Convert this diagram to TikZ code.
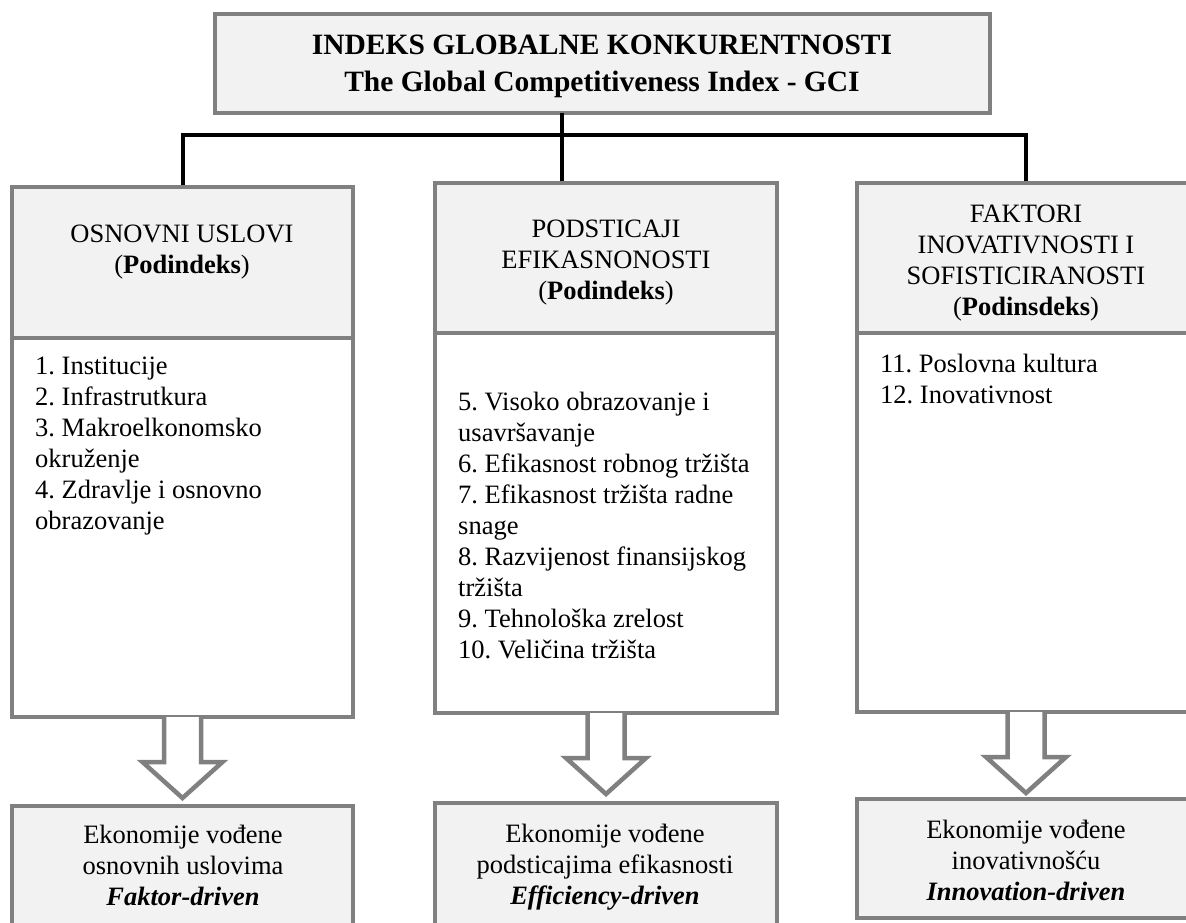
\documentclass[tikz,border=0pt]{standalone}
\usepackage{fontspec}
\setmainfont{Liberation Serif}
\usetikzlibrary{calc}
\definecolor{framegray}{HTML}{808080}
\definecolor{headfill}{HTML}{F2F2F2}
\frenchspacing

% hollow block arrow hanging below a box
\newcommand\hollowdown[1]{%
  \draw[blockarrow] ($(#1.south)+(-18.5,0)$) -- ++(0,45) -- ++(-21.5,0)
    -- ($(#1.south)+(0,81)$) -- ($(#1.south)+(40,45)$) -- ++(-21.5,0)
    -- ($(#1.south)+(18.5,0)$);}

\begin{document}
\begin{tikzpicture}[x=1pt,y=-1pt,
  panel/.style={draw=framegray, line width=4.5pt, inner sep=0pt, outer sep=0pt,
    anchor=north west},
  headpanel/.style={panel, fill=headfill},
  bodypanel/.style={panel, fill=white},
  link/.style={draw=black, line width=4pt, line join=miter},
  blockarrow/.style={draw=framegray, line width=4.5pt, fill=white, line join=miter},
  titletext/.style={font=\fontsize{29.5}{37}\selectfont\bfseries, align=center,
    inner sep=0pt, anchor=north},
  headtext/.style={font=\fontsize{26.5}{31}\selectfont, align=center,
    inner sep=0pt, anchor=north},
  listtext/.style={font=\fontsize{26.5}{31}\selectfont, align=left,
    inner sep=0pt, anchor=north west},
]
\useasboundingbox (0,0) rectangle (1186,922);
\clip (0,0) rectangle (1186,922);

% box outlines (no text yet)
\path
  node[headpanel, minimum width=775, minimum height=99]  (top) at (215,14)  {}
  node[headpanel, minimum width=341, minimum height=151] (lh)  at (12,187)  {}
  node[headpanel, minimum width=342, minimum height=150] (mh)  at (435,183) {}
  node[headpanel, minimum width=338, minimum height=150] (rh)  at (857,183) {};

\coordinate (hub) at (562,135);

% tree connectors
\draw[link] (lh.north) -- (lh.north |- hub) -- (rh.north |- hub) -- (rh.north);
\draw[link] (top.south -| hub) -- (mh.north -| hub);

% bodies of the three pillars
\node[bodypanel, minimum width=341, minimum height=379] (lb) at (12,338)  {};
\node[bodypanel, minimum width=342, minimum height=380] (mb) at (435,333) {};
\node[bodypanel, minimum width=338, minimum height=379] (rb) at (857,333) {};

% redraw headers over the bodies' top edges
\node[headpanel, minimum width=341, minimum height=151] at (12,187)  {};
\node[headpanel, minimum width=342, minimum height=150] at (435,183) {};
\node[headpanel, minimum width=338, minimum height=150] at (857,183) {};

% arrows to the economy types
\hollowdown{lb}
\hollowdown{mb}
\hollowdown{rb}

% economy-type boxes
\node[headpanel, minimum width=341, minimum height=130] (le) at (12,806)  {};
\node[headpanel, minimum width=342, minimum height=133] (me) at (435,803) {};
\node[headpanel, minimum width=338, minimum height=119] (re) at (857,799) {};

% texts
\node[titletext] (ttl) at (602,35)
  {INDEKS GLOBALNE KONKURENTNOSTI\\The Global Competitiveness Index - GCI};

\node[headtext] (lht) at (182,225) {OSNOVNI USLOVI\\(\textbf{Podindeks})};
\node[headtext] (mht) at (606,220) {PODSTICAJI\\EFIKASNONOSTI\\(\textbf{Podindeks})};
\node[headtext] (rht) at (1026,205)
  {FAKTORI\\INOVATIVNOSTI I\\SOFISTICIRANOSTI\\(\textbf{Podinsdeks})};

\node[listtext] (lbt) at (35,357)
  {1. Institucije\\2. Infrastrutkura\\3. Makroelkonomsko\\okruženje\\4. Zdravlje i osnovno\\obrazovanje};
\node[listtext] (mbt) at (458,392)
  {5. Visoko obrazovanje i\\usavršavanje\\6. Efikasnost robnog tržišta\\7. Efikasnost tržišta radne\\snage\\8. Razvijenost finansijskog\\tržišta\\9. Tehnološka zrelost\\10. Veličina tržišta};
\node[listtext] (rbt) at (880,354) {11. Poslovna kultura\\12. Inovativnost};

\node[headtext] (let) at (183,825)
  {Ekonomije vođene\\osnovnih uslovima\\\textbf{\textit{Faktor-driven}}};
\node[headtext] (met) at (605,824)
  {Ekonomije vođene\\podsticajima efikasnosti\\\textbf{\textit{Efficiency-driven}}};
\node[headtext] (ret) at (1026,820)
  {Ekonomije vođene\\inovativnošću\\\textbf{\textit{Innovation-driven}}};
\end{tikzpicture}
\end{document}
